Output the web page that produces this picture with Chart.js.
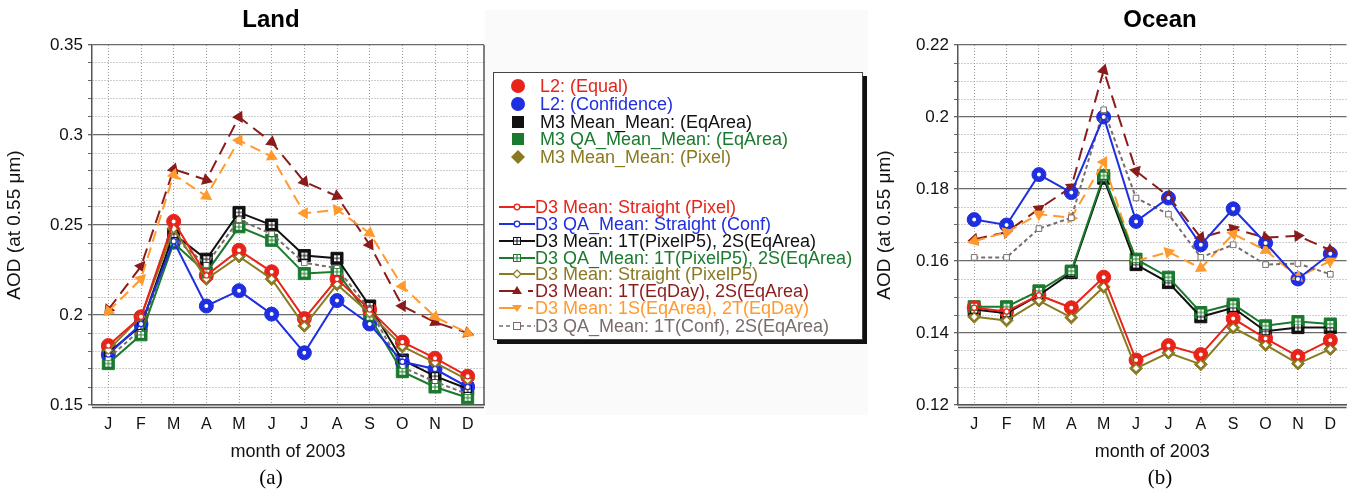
<!DOCTYPE html>
<html>
<head>
<meta charset="utf-8">
<script src="https://cdn.jsdelivr.net/npm/chart.js@4.4.1/dist/chart.umd.min.js"></script>
<style>
  body { margin: 0; background: #fff; font-family: "Liberation Sans", Arial, sans-serif; }
  #wrap { position: relative; width: 1348px; height: 491px; overflow: hidden; }
  .cv { position: absolute; top: 0; }
  .ttl { position: absolute; top: 5px; line-height: 30px; font: bold 24px "Liberation Sans", Arial, sans-serif; transform: translateX(-50%); }
  .lab { position: absolute; top: 465px; line-height: 26px; font: 21px "Liberation Serif", "Times New Roman", serif; transform: translateX(-50%); }
  #shade { position: absolute; left: 485px; top: 10px; width: 383px; height: 405px; background: #fafafa; }
  #legend { position: absolute; left: 493px; top: 72px; width: 368px; height: 266px; background: #fff; border: 1px solid #444; box-shadow: 4px 4px 0 #111; }
  .row { position: absolute; left: 0; height: 18px; line-height: 18px; font-size: 18px; white-space: nowrap; }
  .row svg { position: absolute; top: 0; }
</style>
</head>
<body>
<div id="wrap">
  <div id="shade"></div>
  <canvas id="land" class="cv" style="left:0" width="495" height="491"></canvas>
  <canvas id="ocean" class="cv" style="left:870px" width="486" height="491"></canvas>
  <div class="ttl" style="left:271px">Land</div>
  <div class="ttl" style="left:1160px">Ocean</div>
  <div class="lab" style="left:271px">(a)</div>
  <div class="lab" style="left:1160px">(b)</div>
  <div id="legend"></div>
</div>
<script>
/* MODIS AOD 2003 — Land / Ocean, L2 vs M3 vs D3 aggregations */

const RED = '#e8241a', BLUE = '#1f2fe0', BLACK = '#111111', GREEN = '#1a7a2e',
      OLIVE = '#8a7a22', BROWN = '#8b1c1c', ORANGE = '#ff9a2e', GRAY = '#7a6c6c';

const months = ['J', 'F', 'M', 'A', 'M', 'J', 'J', 'A', 'S', 'O', 'N', 'D'];

// tick values (labels only on the majors)
const landTicks = [0.15, 0.16, 0.17, 0.18, 0.19, 0.2, 0.21, 0.22, 0.23, 0.24, 0.25,
                   0.26, 0.27, 0.28, 0.29, 0.3, 0.31, 0.32, 0.33, 0.34, 0.35];
const landMajor = [0.15, 0.2, 0.25, 0.3, 0.35];
const oceanTicks = [0.12, 0.125, 0.13, 0.135, 0.14, 0.145, 0.15, 0.155, 0.16, 0.165, 0.17,
                    0.175, 0.18, 0.185, 0.19, 0.195, 0.2, 0.205, 0.21, 0.215, 0.22];
const oceanMajor = [0.12, 0.14, 0.16, 0.18, 0.2, 0.22];

// Land
const landEqual   = [0.183, 0.199, 0.252, 0.222, 0.236, 0.224, 0.198, 0.220, 0.203, 0.185, 0.176, 0.166];
const landConf    = [0.178, 0.195, 0.241, 0.205, 0.2135, 0.2005, 0.179, 0.208, 0.195, 0.174, 0.170, 0.160];
const landEqArea  = [0.179, 0.194, 0.245, 0.231, 0.257, 0.250, 0.233, 0.2315, 0.205, 0.175, 0.166, 0.159];
const landQA      = [0.173, 0.189, 0.240, 0.2235, 0.249, 0.2415, 0.223, 0.224, 0.199, 0.1685, 0.160, 0.154];
const landPixel   = [0.1805, 0.199, 0.248, 0.220, 0.2325, 0.220, 0.194, 0.217, 0.201, 0.1825, 0.1735, 0.164];
const landQAConf  = [0.176, 0.192, 0.243, 0.228, 0.253, 0.245, 0.229, 0.226, 0.203, 0.171, 0.163, 0.156];
const landEqDay   = [0.203, 0.227, 0.281, 0.275, 0.310, 0.296, 0.274, 0.266, 0.239, 0.205, 0.196, 0.190];
const landEqDay2  = [0.202, 0.220, 0.278, 0.266, 0.297, 0.288, 0.2565, 0.2585, 0.2455, 0.216, 0.199, 0.190];

// Ocean
const oceanEqual  = [0.147, 0.146, 0.1505, 0.147, 0.1555, 0.1325, 0.1365, 0.134, 0.144, 0.1385, 0.1335, 0.138];
const oceanConf   = [0.1715, 0.170, 0.184, 0.179, 0.200, 0.171, 0.1775, 0.1645, 0.1745, 0.165, 0.155, 0.162];
const oceanEqArea = [0.1465, 0.1455, 0.1505, 0.1568, 0.183, 0.159, 0.154, 0.1445, 0.147, 0.1405, 0.1415, 0.1415];
const oceanQA     = [0.1473, 0.1473, 0.1517, 0.1572, 0.1837, 0.1605, 0.1555, 0.1457, 0.148, 0.142, 0.1432, 0.1425];
const oceanPixel  = [0.1445, 0.1435, 0.149, 0.1443, 0.1528, 0.1302, 0.1345, 0.1313, 0.1415, 0.1367, 0.1315, 0.1355];
const oceanQAConf = [0.161, 0.161, 0.169, 0.172, 0.202, 0.1775, 0.173, 0.161, 0.1645, 0.159, 0.1593, 0.1563];
const oceanEqDay  = [0.166, 0.168, 0.1745, 0.1805, 0.213, 0.185, 0.178, 0.1665, 0.169, 0.1665, 0.167, 0.163];
const oceanEqDay2 = [0.1655, 0.168, 0.173, 0.172, 0.1875, 0.160, 0.1625, 0.158, 0.1675, 0.163, 0.1555, 0.160];

/* ---------- point glyphs ---------- */
function sqCross(color) {
  const c = document.createElement('canvas');
  c.width = c.height = 8;
  const g = c.getContext('2d');
  g.fillStyle = '#fff'; g.fillRect(0.5, 0.5, 7, 7);
  g.strokeStyle = color; g.lineWidth = 1; g.strokeRect(0.5, 0.5, 7, 7);
  g.beginPath(); g.moveTo(4, 1); g.lineTo(4, 7); g.moveTo(1, 4); g.lineTo(7, 4); g.stroke();
  return c;
}

// triangles point along the line, like arrow heads
const arrowRot = ctx => {
  if (ctx.type !== 'data') return 0;
  const d = ctx.dataset.data, i = ctx.dataIndex, { x, y } = ctx.chart.scales;
  const a = i === 0 ? 1 : i - 1;
  const dx = x.getPixelForValue(i) - x.getPixelForValue(a);
  const dy = y.getPixelForValue(d[i]) - y.getPixelForValue(d[a]);
  return Math.atan2(dx, -dy) * 180 / Math.PI;
};

const line = (data, color, style, r) => ({
  data, borderColor: color, borderWidth: 2, pointStyle: style, pointRadius: r,
  pointBackgroundColor: '#fff', pointBorderColor: color, pointBorderWidth: 1.2, tension: 0,
});
const dashed = (data, color, dash, extra) => Object.assign({
  data, borderColor: color, borderWidth: 2, borderDash: dash, tension: 0,
  pointBackgroundColor: color, pointBorderColor: color,
}, extra);
const marker = (data, color, style, r) => ({
  data, showLine: false, pointStyle: style, pointRadius: r,
  pointBackgroundColor: color, pointBorderColor: color, borderColor: color,
});

function sets(S) {
  // first one in the list ends up on top
  return [
    line(S.equal, RED, 'circle', 2.6),
    line(S.pixel, OLIVE, 'rectRot', 4),
    line(S.conf, BLUE, 'circle', 2.6),
    line(S.qa, GREEN, sqCross(GREEN), 4),
    line(S.eqArea, BLACK, sqCross(BLACK), 4),
    dashed(S.qaConf, GRAY, [4, 3], { pointStyle: 'rect', pointRadius: 4, pointBackgroundColor: '#fff', pointBorderWidth: 1 }),
    dashed(S.eqDay2, ORANGE, [11, 6], { pointStyle: 'triangle', pointRadius: 5, pointRotation: arrowRot }),
    dashed(S.eqDay, BROWN, [13, 7], { pointStyle: 'triangle', pointRadius: 5, pointRotation: arrowRot }),
    marker(S.equal, RED, 'circle', 7),
    marker(S.pixel, OLIVE, 'rectRot', 6.5),
    marker(S.conf, BLUE, 'circle', 7),
    marker(S.qa, GREEN, 'rect', 8.5),
    marker(S.eqArea, BLACK, 'rect', 8.5),
  ];
}

const frame = {
  id: 'frame',
  beforeDatasetsDraw(c, args, o) {
    const { ctx, chartArea: ca } = c;
    ctx.save();
    ctx.strokeStyle = '#555'; ctx.lineWidth = 1.5;
    ctx.beginPath();
    if (o.right) { ctx.moveTo(ca.right, ca.top); ctx.lineTo(ca.right, ca.bottom); }
    ctx.moveTo(ca.left, ca.bottom + 2.5); ctx.lineTo(ca.right, ca.bottom + 2.5);
    ctx.stroke();
    ctx.restore();
  },
};

function draw(id, S, ticks, major, min, max, axisW, padRight, right) {
  const isMajor = v => major.includes(v);
  new Chart(document.getElementById(id), {
    type: 'line',
    data: { labels: months, datasets: sets(S) },
    plugins: [frame],
    options: {
      responsive: false, animation: false, events: [],
      layout: { padding: { top: 45, right: padRight, bottom: 24.2, left: 0 } },
      plugins: { legend: { display: false }, tooltip: { enabled: false }, frame: { right } },
      scales: {
        x: {
          offset: true,
          afterFit: s => { s.height = 61.8; s.paddingLeft = 0; s.paddingRight = 0; },
          grid: { offset: false, color: '#9a9a9a', lineWidth: 1, drawTicks: true, tickLength: 10, tickColor: 'rgba(0,0,0,0)' },
          border: { display: true, color: '#555', width: 1.5, dash: [1, 2] },
          ticks: { color: '#111', padding: 0, font: { size: 16, family: 'Liberation Sans' } },
          title: { display: true, text: 'month of 2003', color: '#111', padding: { top: 6, bottom: 4 },
                   font: { size: 18, family: 'Liberation Sans' } },
        },
        y: {
          min, max,
          afterFit: s => { s.width = axisW; },
          afterBuildTicks: s => { s.ticks = ticks.map(v => ({ value: v })); },
          grid: {
            color: c => c.tick && isMajor(c.tick.value) ? '#6a6a6a' : '#9a9a9a',
            lineWidth: c => c.tick && isMajor(c.tick.value) ? 1.3 : 1,
            tickLength: 4, tickColor: '#666',
          },
          border: { display: true, color: '#555', width: 1.5,
                    dash: c => c.tick && !isMajor(c.tick.value) ? [1, 2] : [] },
          ticks: { autoSkip: false, color: '#111', padding: 5, font: { size: 17, family: 'Liberation Sans' },
                   callback: v => isMajor(v) ? String(v) : '' },
          title: { display: true, text: 'AOD (at 0.55 μm)', color: '#111', padding: { top: 3.6 },
                   font: { size: 19, family: 'Liberation Sans' } },
        },
      },
    },
  });
}

draw('land', { equal: landEqual, conf: landConf, eqArea: landEqArea, qa: landQA, pixel: landPixel,
               qaConf: landQAConf, eqDay: landEqDay, eqDay2: landEqDay2 },
     landTicks, landMajor, 0.15, 0.35, 92, 11, true);
draw('ocean', { equal: oceanEqual, conf: oceanConf, eqArea: oceanEqArea, qa: oceanQA, pixel: oceanPixel,
                qaConf: oceanQAConf, eqDay: oceanEqDay, eqDay2: oceanEqDay2 },
     oceanTicks, oceanMajor, 0.12, 0.22, 88, 2, false);

/* ---------- legend ---------- */
const legendTop = [
  ['L2: (Equal)', RED, 'dot'],
  ['L2: (Confidence)', BLUE, 'dot'],
  ['M3 Mean_Mean: (EqArea)', BLACK, 'sq'],
  ['M3 QA_Mean_Mean: (EqArea)', GREEN, 'sq'],
  ['M3 Mean_Mean: (Pixel)', OLIVE, 'dia'],
];
const legendLines = [
  ['D3 Mean: Straight (Pixel)', RED, 'circ'],
  ['D3 QA_Mean: Straight (Conf)', BLUE, 'circ'],
  ['D3 Mean: 1T(PixelP5), 2S(EqArea)', BLACK, 'sqx'],
  ['D3 QA_Mean: 1T(PixelP5), 2S(EqArea)', GREEN, 'sqx'],
  ['D3 Mean: Straight (PixelP5)', OLIVE, 'odia'],
  ['D3 Mean: 1T(EqDay), 2S(EqArea)', BROWN, 'up'],
  ['D3 Mean: 1S(EqArea), 2T(EqDay)', ORANGE, 'down'],
  ['D3 QA_Mean: 1T(Conf), 2S(EqArea)', GRAY, 'dsq'],
];
const topY = [13, 31, 49, 66, 84], lineY = [134, 151, 168, 185, 201, 218, 235, 253];

function glyph(kind, c) {
  const svg = (w, body, left) => `<svg width="${w}" height="18" style="left:${left}px">${body}</svg>`;
  const ln = `<line x1="0" y1="9" x2="36" y2="9" stroke="${c}" stroke-width="2"/>`;
  switch (kind) {
    case 'dot': return svg(20, `<circle cx="10" cy="9" r="7" fill="${c}"/>`, 14);
    case 'sq': return svg(20, `<rect x="4" y="3" width="12" height="12" fill="${c}"/>`, 14);
    case 'dia': return svg(20, `<polygon points="10,2 17,9 10,16 3,9" fill="${c}"/>`, 14);
    case 'circ': return svg(36, ln + `<circle cx="18" cy="9" r="2.8" fill="#fff" stroke="${c}" stroke-width="1.3"/>`, 5);
    case 'sqx': return svg(36, ln + `<rect x="14.5" y="5.5" width="7" height="7" fill="#fff" stroke="${c}"/>` +
                           `<path d="M18 6v6M15 9h6" stroke="${c}"/>`, 5);
    case 'odia': return svg(36, ln + `<polygon points="18,5 22,9 18,13 14,9" fill="#fff" stroke="${c}" stroke-width="1.2"/>`, 5);
    case 'up': return svg(36, `<line x1="0" y1="9" x2="20" y2="9" stroke="${c}" stroke-width="2"/>` +
                          `<polygon points="18,4 23,12 13,12" fill="${c}"/><line x1="29" y1="9" x2="34" y2="9" stroke="${c}" stroke-width="2"/>`, 5);
    case 'down': return svg(36, `<line x1="0" y1="9" x2="20" y2="9" stroke="${c}" stroke-width="2"/>` +
                            `<polygon points="13,6 23,6 18,13" fill="${c}"/><line x1="29" y1="9" x2="34" y2="9" stroke="${c}" stroke-width="2"/>`, 5);
    case 'dsq': return svg(36, `<line x1="0" y1="9" x2="36" y2="9" stroke="${c}" stroke-width="1.6" stroke-dasharray="4 3"/>` +
                           `<rect x="14.5" y="5.5" width="7" height="7" fill="#fff" stroke="${c}"/>`, 5);
  }
}

document.getElementById('legend').innerHTML =
  legendTop.map(([t, c, k], i) =>
    `<div class="row" style="top:${topY[i] - 9}px">${glyph(k, c)}<span style="position:absolute;left:46px;color:${c}">${t}</span></div>`).join('') +
  legendLines.map(([t, c, k], i) =>
    `<div class="row" style="top:${lineY[i] - 9}px">${glyph(k, c)}<span style="position:absolute;left:41px;color:${c}">${t}</span></div>`).join('');
</script>
</body>
</html>
